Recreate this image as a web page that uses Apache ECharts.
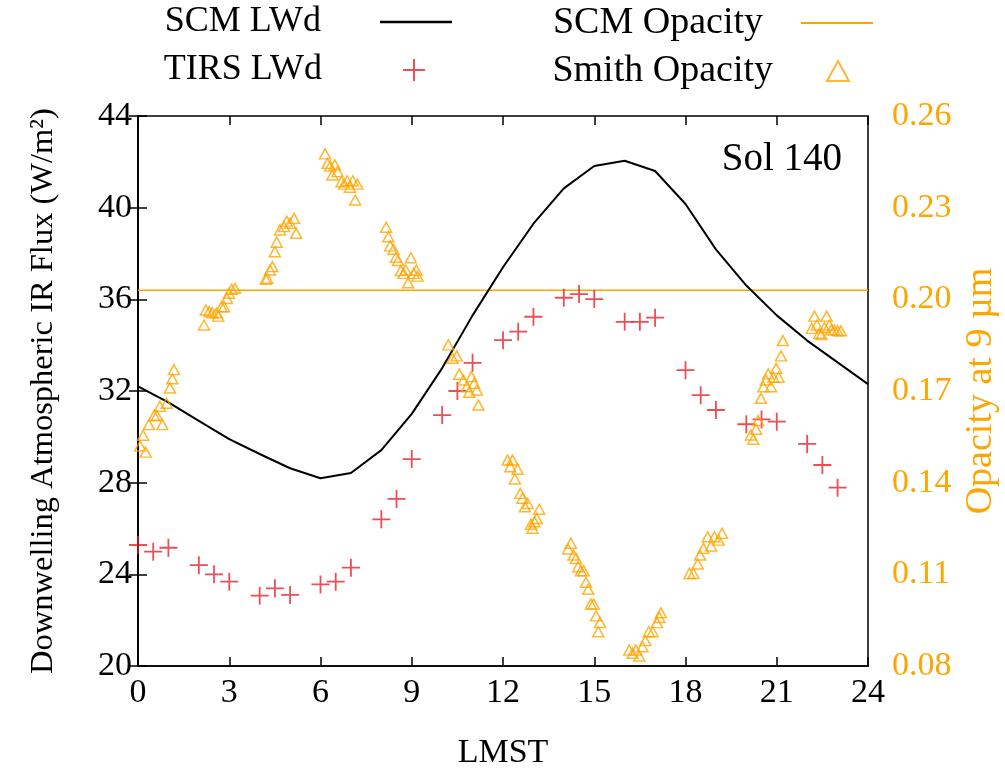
<!DOCTYPE html>
<html>
<head>
<meta charset="utf-8">
<script src="https://cdn.jsdelivr.net/npm/echarts@6/dist/echarts.min.js"></script>
<style>
html, body { margin: 0; padding: 0; background: #fff; }
#chart { width: 1005px; height: 776px; }
</style>
</head>
<body>
<div id="chart"></div>
<script>
// SCM model, hourly
var scmHour = [0, 1, 2, 3, 4, 5, 6, 7, 8, 9, 10, 11, 12, 13, 14, 15, 16, 17, 18, 19, 20, 21, 22, 23, 24];
var scmLwd = [32.2, 31.5, 30.7, 29.9, 29.25, 28.63, 28.19, 28.42, 29.42, 31.0, 33.0, 35.3, 37.4,
              39.3, 40.84, 41.82, 42.05, 41.6, 40.16, 38.18, 36.6, 35.3, 34.2, 33.25, 32.3];
var scmOpHour = [0, 24];
var scmOp = [0.203, 0.203];

// TIRS observations
var tirsHour = [0, 0.5, 1, 2, 2.5, 3, 4, 4.5, 5, 6, 6.5, 7, 8, 8.5, 9, 10, 10.5, 11,
                12, 12.5, 13, 14, 14.5, 15, 16, 16.5, 17, 18, 18.5, 19, 20, 20.5, 21, 22, 22.5, 23];
var tirsLwd = [25.28, 24.99, 25.16, 24.4, 24.0, 23.68, 23.07, 23.39, 23.1, 23.56, 23.68, 24.29,
               26.4, 27.29, 29.03, 30.95, 32.0, 33.23, 34.22, 34.59, 35.24, 36.07, 36.23, 36.01,
               35.02, 35.02, 35.2, 32.91, 31.82, 31.17, 30.55, 30.76, 30.66, 29.69, 28.77, 27.78];

// Smith opacity retrievals
var smithHour = [
  0.07, 0.17, 0.25, 0.36, 0.53, 0.62, 0.72, 0.8, 0.94, 1.05, 1.13, 1.18,
  2.17, 2.23, 2.34, 2.44, 2.58, 2.64, 2.75, 2.83, 2.92, 2.99, 3.08, 3.19,
  4.2, 4.25, 4.34, 4.42, 4.5, 4.56, 4.67, 4.8, 4.89, 5.0, 5.13, 5.2,
  6.15, 6.23, 6.32, 6.39, 6.47, 6.56, 6.69, 6.78, 6.88, 6.97, 7.06, 7.14, 7.21,
  8.16, 8.23, 8.29, 8.4, 8.48, 8.55, 8.64, 8.73, 8.8, 8.88, 8.97, 9.06, 9.15, 9.19,
  10.2, 10.34, 10.48, 10.56, 10.7, 10.81, 10.89, 10.96, 11.05, 11.14, 11.19,
  12.15, 12.24, 12.31, 12.39, 12.48, 12.57, 12.64, 12.72, 12.81, 12.92, 12.97, 13.03, 13.11, 13.19,
  14.14, 14.23, 14.32, 14.4, 14.47, 14.56, 14.65, 14.73, 14.8, 14.89, 14.98, 15.06, 15.13, 15.19,
  16.15, 16.26, 16.37, 16.48, 16.59, 16.68, 16.79, 16.92, 17.06, 17.14, 17.19,
  18.13, 18.26, 18.4, 18.48, 18.59, 18.73, 18.84, 18.95, 19.09, 19.2,
  20.15, 20.23, 20.32, 20.39, 20.48, 20.56, 20.65, 20.72, 20.81, 20.89, 20.98, 21.06, 21.14, 21.2,
  22.15, 22.24, 22.32, 22.4, 22.47, 22.57, 22.64, 22.73, 22.79, 22.89, 23.0, 23.11
];
var smithOp = [
  0.152, 0.1555, 0.150, 0.159, 0.162, 0.162, 0.165, 0.159, 0.166, 0.171, 0.174, 0.177,
  0.1916, 0.1965, 0.196, 0.1956, 0.1956, 0.1945, 0.1976, 0.1976, 0.2003, 0.202, 0.2033, 0.2036,
  0.2066, 0.2069, 0.2096, 0.2107, 0.2156, 0.2187, 0.2227, 0.2238, 0.2256, 0.2249, 0.2265, 0.2216,
  0.2476, 0.2445, 0.2436, 0.2407, 0.244, 0.2418, 0.2385, 0.2377, 0.2388, 0.2367, 0.2388, 0.2325, 0.2377,
  0.2236, 0.2205, 0.2175, 0.2164, 0.2138, 0.2127, 0.2094, 0.2085, 0.2096, 0.2054, 0.2136, 0.2085, 0.2096, 0.2076,
  0.1851, 0.1807, 0.1815, 0.1755, 0.1736, 0.1714, 0.1696, 0.1747, 0.1725, 0.1703, 0.1654,
  0.1474, 0.1452, 0.1474, 0.1412, 0.1444, 0.1365, 0.1349, 0.1321, 0.1332, 0.1264, 0.1251, 0.1272, 0.1283, 0.1313,
  0.1183, 0.1202, 0.1163, 0.1152, 0.1125, 0.1112, 0.1112, 0.1074, 0.1051, 0.1003, 0.1003, 0.0964, 0.0912, 0.0942,
  0.0852, 0.0842, 0.0852, 0.0833, 0.0863, 0.0883, 0.0912, 0.0912, 0.0942, 0.0959, 0.0974,
  0.1103, 0.1103, 0.1134, 0.1163, 0.1185, 0.1223, 0.1193, 0.1223, 0.1212, 0.1234,
  0.1556, 0.1542, 0.1575, 0.1603, 0.1676, 0.1714, 0.1736, 0.1756, 0.1714, 0.1745, 0.1774, 0.1745, 0.1815, 0.1865,
  0.1905, 0.1945, 0.1916, 0.1889, 0.1885, 0.1908, 0.1945, 0.1916, 0.19, 0.19, 0.1897, 0.1897
];

var FONT = 'Liberation Serif';
var ORANGE = '#ffa500';
var RED = '#e8202a';
var CROSS = 'path://M10,0L10,20M0,10L20,10';

function zip(xs, ys) {
	var out = [];
	for (var i = 0; i < xs.length; i++) out.push([xs[i], ys[i]]);
	return out;
}

// one legend per entry so the samples sit where gnuplot put them
function legendAt(item, right, top, iconW, iconH, gap, size) {
	return {
		data: [item],
		right: right,
		top: top,
		padding: 0,
		align: 'right',
		itemWidth: iconW,
		itemHeight: iconH,
		selectedMode: false,
		textStyle: { fontFamily: FONT, fontSize: size, color: '#000', padding: [0, gap, 0, 0] }
	};
}

var myChart = echarts.init(document.getElementById('chart'));
var option = {
	backgroundColor: '#fff',
	animation: false,
	title: {
		text: 'Sol 140',
		right: 163,
		top: 140,
		padding: 0,
		textStyle: { fontFamily: FONT, fontSize: 39, fontWeight: 'normal', color: '#000' }
	},
	legend: [
		legendAt({ name: 'SCM LWd', icon: 'rect' }, 553, 4, 72, 2.5, 54, 36),
		legendAt('TIRS LWd', 579, 52, 22, 22, 76, 36),
		legendAt({ name: 'SCM Opacity', icon: 'rect' }, 132, 4, 72, 2, 33, 38),
		legendAt('Smith Opacity', 155, 52, 22, 20, 49, 38)
	],
	grid: {
		left: 138, right: 137, top: 116, bottom: 110,
		outerBoundsMode: 'none',
		show: true, borderColor: '#000', borderWidth: 1.5
	},
	xAxis: [
		{
			type: 'value',
			min: 0, max: 24, interval: 3,
			name: 'LMST',
			nameLocation: 'middle',
			nameGap: 70,
			nameTextStyle: { fontFamily: FONT, fontSize: 34, color: '#000' },
			axisLine: { lineStyle: { color: '#000', width: 1.5 } },
			axisTick: { inside: true, length: 9, lineStyle: { color: '#000', width: 1.5 } },
			axisLabel: { fontFamily: FONT, fontSize: 34, color: '#000', margin: 10 },
			splitLine: { show: false }
		},
		{
			// mirrored ticks along the top border
			type: 'value',
			position: 'top',
			min: 0, max: 24, interval: 3,
			axisLine: { show: false },
			axisTick: { inside: true, length: 9, lineStyle: { color: '#000', width: 1.5 } },
			axisLabel: { show: false },
			splitLine: { show: false }
		}
	],
	yAxis: [
		{
			type: 'value',
			min: 20, max: 44, interval: 4,
			name: 'Downwelling Atmospheric IR Flux (W/m²)',
			nameLocation: 'middle',
			nameRotate: 90,
			nameGap: 78,
			nameTextStyle: { fontFamily: FONT, fontSize: 32.5, color: '#000' },
			axisLine: { show: true, lineStyle: { color: '#000', width: 1.5 } },
			axisTick: { inside: true, length: 9, lineStyle: { color: '#000', width: 1.5 } },
			axisLabel: { fontFamily: FONT, fontSize: 34, color: '#000', margin: 6 },
			splitLine: { show: false }
		},
		{
			type: 'value',
			position: 'right',
			min: 0.08, max: 0.26,
			alignTicks: true,
			name: 'Opacity at 9 µm',
			nameLocation: 'middle',
			nameRotate: 90,
			nameGap: 94,
			nameTextStyle: { fontFamily: FONT, fontSize: 38, color: ORANGE },
			axisLine: { show: true, lineStyle: { color: '#000', width: 1.5 } },
			axisTick: { inside: true, length: 9, lineStyle: { color: '#000', width: 1.5 } },
			axisLabel: {
				fontFamily: FONT, fontSize: 34, color: ORANGE, margin: 24,
				formatter: function (v) { return v.toFixed(2); }
			},
			splitLine: { show: false }
		}
	],
	series: [
		{
			name: 'SCM LWd',
			type: 'line',
			yAxisIndex: 0,
			symbol: 'none',
			lineStyle: { color: '#000', width: 2 },
			itemStyle: { color: '#000' },
			data: zip(scmHour, scmLwd),
			z: 3
		},
		{
			name: 'TIRS LWd',
			type: 'scatter',
			yAxisIndex: 0,
			symbol: CROSS,
			symbolSize: 18,
			itemStyle: { color: 'rgba(0,0,0,0)', borderColor: RED, borderWidth: 1.8 },
			data: zip(tirsHour, tirsLwd),
			z: 4
		},
		{
			name: 'SCM Opacity',
			type: 'line',
			yAxisIndex: 1,
			symbol: 'none',
			lineStyle: { color: ORANGE, width: 1.5 },
			itemStyle: { color: ORANGE },
			data: zip(scmOpHour, scmOp),
			z: 2
		},
		{
			name: 'Smith Opacity',
			type: 'scatter',
			yAxisIndex: 1,
			symbol: 'triangle',
			symbolSize: [11, 10],
			itemStyle: { color: 'rgba(0,0,0,0)', borderColor: ORANGE, borderWidth: 1.5 },
			data: zip(smithHour, smithOp),
			z: 4
		}
	]
};
myChart.setOption(option);
</script>
</body>
</html>
